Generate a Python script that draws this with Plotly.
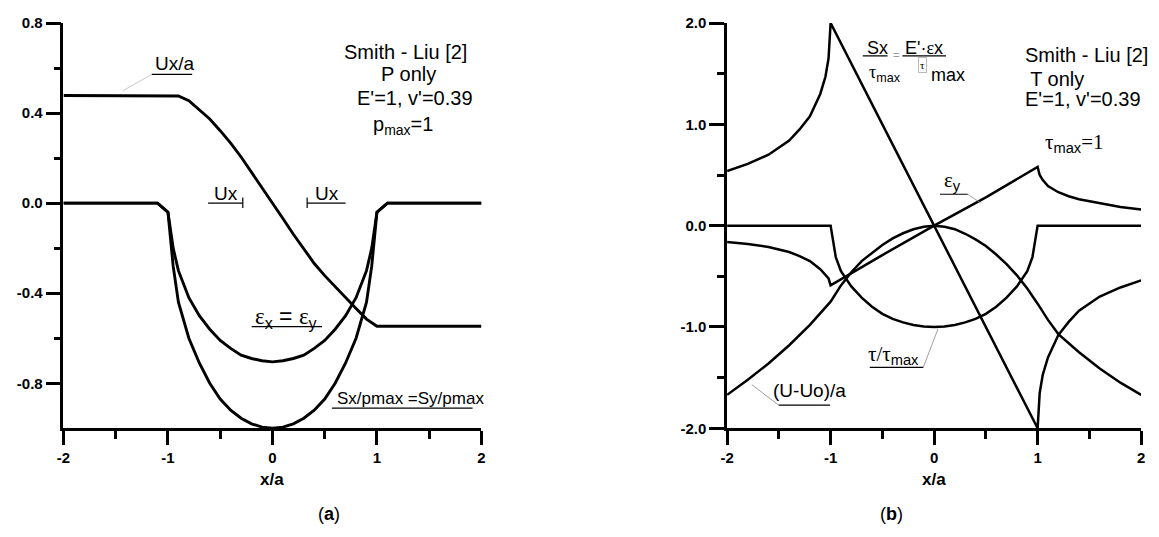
import plotly.graph_objects as go

# ---------------- Panel (a): P only ----------------
ux_x = [-2, -1.0, -0.9, -0.8, -0.7, -0.6, -0.5, -0.4, -0.3, -0.2, -0.1, 0,
        0.1, 0.2, 0.3, 0.4, 0.5, 0.6, 0.7, 0.8, 0.9, 1.0, 2]
ux_a = [0.478, 0.478, 0.476, 0.455, 0.415, 0.374, 0.322, 0.267, 0.205, 0.138, 0.068, 0.0,
        -0.068, -0.138, -0.205, -0.268, -0.322, -0.372, -0.42, -0.468, -0.515, -0.547, -0.547]

s_x = [-2, -1.1, -1.0, -0.95, -0.9, -0.8, -0.7, -0.6, -0.5, -0.4, -0.3, -0.2, -0.1, 0,
       0.1, 0.2, 0.3, 0.4, 0.5, 0.6, 0.7, 0.8, 0.9, 0.95, 1.0, 1.1, 2]
sx_pmax = [0, 0, -0.04, -0.28, -0.44, -0.6, -0.71, -0.8, -0.87, -0.92, -0.955, -0.98, -0.995, -1.0,
           -0.995, -0.98, -0.955, -0.92, -0.87, -0.8, -0.71, -0.6, -0.44, -0.28, -0.04, 0, 0]
eps_x = [0, 0, -0.04, -0.2, -0.3, -0.42, -0.5, -0.56, -0.61, -0.645, -0.675, -0.69, -0.70, -0.705,
         -0.70, -0.69, -0.675, -0.645, -0.61, -0.56, -0.5, -0.42, -0.3, -0.2, -0.04, 0, 0]

# ---------------- Panel (b): T only ----------------
b_x = [-2, -1.8, -1.6, -1.4, -1.3, -1.2, -1.1, -1.05, -1.02, -1.0,
       -0.5, 0, 0.5,
       1.0, 1.02, 1.05, 1.1, 1.2, 1.3, 1.4, 1.6, 1.8, 2]
sx_tau = [0.54, 0.61, 0.70, 0.84, 0.95, 1.08, 1.30, 1.47, 1.65, 2.0,
          1.0, 0.0, -1.0,
          -2.0, -1.65, -1.47, -1.30, -1.08, -0.95, -0.84, -0.70, -0.61, -0.54]
eps_y = [-0.16, -0.18, -0.21, -0.26, -0.30, -0.35, -0.43, -0.48, -0.52, -0.59,
         -0.29, 0.0, 0.28,
         0.58, 0.50, 0.45, 0.39, 0.33, 0.29, 0.26, 0.22, 0.185, 0.16]

t_x = [-2, -1.0, -0.95, -0.9, -0.8, -0.7, -0.6, -0.5, -0.4, -0.3, -0.2, -0.1, 0,
       0.1, 0.2, 0.3, 0.4, 0.5, 0.6, 0.7, 0.8, 0.9, 0.95, 1.0, 2]
tau_tmax = [0, 0, -0.31, -0.45, -0.6, -0.71, -0.8, -0.87, -0.92, -0.955, -0.98, -0.995, -1.0,
            -0.995, -0.98, -0.955, -0.92, -0.87, -0.8, -0.71, -0.6, -0.45, -0.31, 0, 0]

u_x = [-2, -1.8, -1.6, -1.4, -1.2, -1.1, -1.0, -0.9, -0.8, -0.7, -0.6, -0.5, -0.4, -0.3, -0.2, -0.1, 0,
       0.1, 0.2, 0.3, 0.4, 0.5, 0.6, 0.7, 0.8, 0.9, 1.0, 1.1, 1.2, 1.4, 1.6, 1.8, 2]
u_uo = [-1.67, -1.52, -1.36, -1.18, -0.98, -0.87, -0.75, -0.59, -0.46, -0.35, -0.27, -0.19, -0.125, -0.075, -0.035, -0.01, 0.0,
        -0.01, -0.035, -0.08, -0.135, -0.2, -0.285, -0.38, -0.49, -0.62, -0.77, -0.93, -1.07, -1.25, -1.41, -1.55, -1.67]

xticks = [-2, -1, 0, 1, 2]
xticktext = ["-2", "-1", "0", "1", "2"]
ya_ticks = [0.8, 0.4, 0.0, -0.4, -0.8]
ya_text = ["0.8", "0.4", "0.0", "-0.4", "-0.8"]
yb_ticks = [2.0, 1.0, 0.0, -1.0, -2.0]
yb_text = ["2.0", "1.0", "0.0", "-1.0", "-2.0"]

W, H = 1159, 537
SANS = "Liberation Sans, Arial, sans-serif"
SERIF = "Liberation Serif, Times New Roman, serif"

fig = go.Figure()
lw_a, lw_b = 2.9, 2.5
fig.add_trace(go.Scatter(x=ux_x, y=ux_a, mode="lines", line=dict(color="black", width=lw_a), xaxis="x", yaxis="y"))
fig.add_trace(go.Scatter(x=s_x, y=sx_pmax, mode="lines", line=dict(color="black", width=lw_a), xaxis="x", yaxis="y"))
fig.add_trace(go.Scatter(x=s_x, y=eps_x, mode="lines", line=dict(color="black", width=lw_a), xaxis="x", yaxis="y"))

fig.add_trace(go.Scatter(x=b_x, y=sx_tau, mode="lines", line=dict(color="black", width=lw_b), xaxis="x2", yaxis="y2"))
fig.add_trace(go.Scatter(x=b_x, y=eps_y, mode="lines", line=dict(color="black", width=lw_b), xaxis="x2", yaxis="y2"))
fig.add_trace(go.Scatter(x=t_x, y=tau_tmax, mode="lines", line=dict(color="black", width=lw_b), xaxis="x2", yaxis="y2"))
fig.add_trace(go.Scatter(x=u_x, y=u_uo, mode="lines", line=dict(color="black", width=lw_b), xaxis="x2", yaxis="y2"))


def xaxis(domain, anchor):
    return dict(domain=domain, anchor=anchor, range=[-2, 2], showgrid=False, zeroline=False,
                showline=True, linecolor="black", linewidth=2.5, ticks="outside", ticklen=14, tickwidth=2.5,
                tickcolor="black", tickvals=xticks, ticktext=xticktext,
                tickfont=dict(family=SANS, size=15, color="black", weight="bold"),
                minor=dict(ticks="outside", ticklen=8, tickwidth=2.5, tickcolor="black",
                           tickvals=[-1.5, -0.5, 0.5, 1.5], showgrid=False))


def yaxis(domain, anchor, rng, tv, tt, minor_vals):
    return dict(domain=domain, anchor=anchor, range=rng, showgrid=False, zeroline=False,
                showline=True, linecolor="black", linewidth=2.5, ticks="outside", ticklen=15, tickwidth=2.5,
                tickcolor="black", tickvals=tv, ticktext=tt,
                tickfont=dict(family=SANS, size=15, color="black", weight="bold"),
                minor=dict(ticks="outside", ticklen=7, tickwidth=2.5, tickcolor="black",
                           tickvals=minor_vals, showgrid=False))


ydom = [1 - 433 / H, 1 - 14.5 / H]
fig.update_layout(
    width=W, height=H, margin=dict(l=0, r=0, t=0, b=0),
    paper_bgcolor="white", plot_bgcolor="white", showlegend=False,
    font=dict(family=SANS, color="black"),
    xaxis=xaxis([57 / W, 479 / W], "y"),
    yaxis=yaxis(ydom, "x", [-1.0, 0.8], ya_ticks, ya_text, [0.6, 0.2, -0.2, -0.6]),
    xaxis2=xaxis([727 / W, 1145 / W], "y2"),
    yaxis2=yaxis(ydom, "x2", [-2.0, 2.0], yb_ticks, yb_text, [1.5, 0.5, -0.5, -1.5]),
)

ann = []


def A(text, x, y, xref="x", yref="y", size=20, xanchor="center", yanchor="middle", family=SANS,
      color="black", **kw):
    ann.append(dict(text=text, x=x, y=y, xref=xref, yref=yref, showarrow=False, xanchor=xanchor,
                    yanchor=yanchor, font=dict(family=family, size=size, color=color), **kw))


shapes = []


def L(x0, y0, x1, y1, xref="x", yref="y", color="black", width=1.2):
    shapes.append(dict(type="line", x0=x0, y0=y0, x1=x1, y1=y1, xref=xref, yref=yref,
                       line=dict(color=color, width=width)))


# axis titles and panel labels
A("<b>x/a</b>", 0, 1 - 486 / H, xref="x", yref="paper", size=17)
A("<b>x/a</b>", 0, 1 - 486 / H, xref="x2", yref="paper", size=17)
A("(<b>a</b>)", 0.54, 1 - 522 / H, xref="x", yref="paper", size=18)
A("(<b>b</b>)", -0.41, 1 - 522 / H, xref="x2", yref="paper", size=18)

# ---- panel (a) labels
A("Ux/a", -0.93, 0.619, size=19)
L(-1.156, 0.572, -0.768, 0.572)
L(-1.156, 0.572, -1.431, 0.499, color="#bbbbbb", width=0.8)
A("Ux", -0.44, 0.045, size=19)
L(-0.616, 0.0, -0.284, 0.0)
L(-0.284, 0.025, -0.284, -0.022)
A("Ux", 0.525, 0.045, size=19)
L(0.332, 0.0, 0.70, 0.0)
L(0.332, 0.025, 0.332, -0.022)
A("Smith - Liu [2]", 1.27, 0.671, size=20)
A("P only", 1.30, 0.572, size=20)
A("E'=1, v'=0.39", 1.365, 0.468, size=20)
A("p<sub>max</sub>=1", 1.25, 0.345, size=20)
A("<span style='font-family:Liberation Serif'>ε</span><sub>x</sub> = "
  "<span style='font-family:Liberation Serif'>ε</span><sub>y</sub>", 0.13, -0.51, size=23)
L(-0.199, -0.548, 0.474, -0.548)
A("Sx/pmax =Sy/pmax", 1.32, -0.867, size=17)
L(0.569, -0.910, 1.915, -0.910)

# ---- panel (b) labels
A("Sx", -0.67, 1.752, xref="x2", yref="y2", size=18, xanchor="left")
L(-0.689, 1.675, -0.45, 1.675, xref="x2", yref="y2")
A("=", -0.364, 1.68, xref="x2", yref="y2", size=11, color="#999999")
A("E'·<span style='font-family:Liberation Serif'>ε</span>x", -0.297, 1.752, xref="x2", yref="y2",
  size=18, xanchor="left")
L(-0.306, 1.675, 0.115, 1.675, xref="x2", yref="y2")
A("<span style='font-family:Liberation Serif'>τ</span><sub>max</sub>", -0.651, 1.50, xref="x2", yref="y2",
  size=18, xanchor="left")
A("τ", -0.115, 1.589, xref="x2", yref="y2", size=11, family=SERIF,
  bordercolor="#bbbbbb", borderwidth=1, borderpad=1)
A("max", -0.048, 1.484, xref="x2", yref="y2", size=18, xanchor="left")
A("Smith - Liu [2]", 0.861, 1.685, xref="x2", yref="y2", size=20, xanchor="left")
A(" T only", 0.86, 1.446, xref="x2", yref="y2", size=20, xanchor="left")
A("E'=1, v'=0.39", 0.861, 1.246, xref="x2", yref="y2", size=20, xanchor="left")
A("<span style='font-family:Liberation Serif'>τ</span><sub>max</sub>"
  "<span style='font-family:Liberation Serif'>=1</span>", 1.053, 0.82, xref="x2", yref="y2",
  size=21, xanchor="left")
A("<span style='font-family:Liberation Serif'>ε</span><sub>y</sub>", 0.182, 0.444, xref="x2", yref="y2", size=21)
L(0.057, 0.310, 0.325, 0.310, xref="x2", yref="y2")
L(0.325, 0.310, 0.450, 0.224, xref="x2", yref="y2", color="#888888", width=0.8)
A("<span style='font-family:Liberation Serif'>τ/τ</span><sub>max</sub>", -0.392, -1.274,
  xref="x2", yref="y2", size=21)
L(-0.622, -1.399, -0.105, -1.399, xref="x2", yref="y2")
L(-0.105, -1.399, 0.038, -1.017, xref="x2", yref="y2", color="#888888", width=0.8)
A("(U-Uo)/a", -1.206, -1.628, xref="x2", yref="y2", size=19)
L(-1.502, -1.771, -1.005, -1.771, xref="x2", yref="y2")
L(-1.502, -1.771, -1.761, -1.570, xref="x2", yref="y2", color="#888888", width=0.8)

fig.update_layout(annotations=ann, shapes=shapes)
fig.write_html("out.html")
